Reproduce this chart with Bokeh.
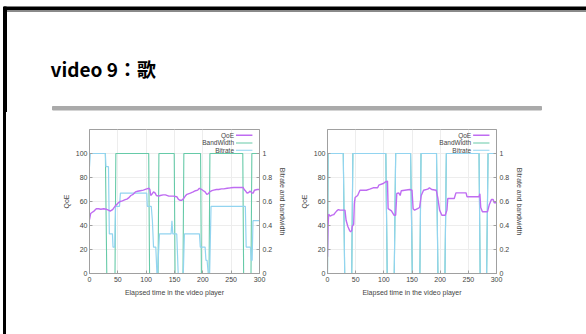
from bokeh.plotting import figure
from bokeh.models import Range1d, LinearAxis, FixedTicker, CustomJSTickFormatter, Spacer, Div
from bokeh.layouts import column, row
from bokeh.embed import file_html
from bokeh.resources import INLINE
from bokeh.core.properties import value

# ---------------- texts ----------------
TITLE = "video 9：歌"
X_LABEL = "Elapsed time in the video player"
Y_LABEL = "QoE"
Y2_LABEL = "Bitrate and bandwidth"
SERIES = ["QoE", "BandWidth", "Bitrate"]
X_TICKS = [0, 50, 100, 150, 200, 250, 300]
Y_TICKS = [0, 20, 40, 60, 80, 100]
Y2_TICKS = [0, 0.2, 0.4, 0.6, 0.8, 1]

# ---------------- data: left chart ----------------
qoe_a_t = [0, 2, 5, 8, 12, 16, 20, 25, 30, 33.5,
           36.5, 40, 42, 45, 48, 51, 54, 58, 63, 66,
           69, 73, 77, 81, 85, 89.5, 95, 101, 105, 106.5,
           108, 110, 113, 116, 118, 122, 125, 130, 134, 140,
           144, 148, 154, 157, 160, 163, 166, 169, 172, 178,
           183, 187, 191, 194, 198, 201, 204, 207, 210, 212,
           216, 219, 224, 228, 233, 237, 243, 249, 255, 260,
           266, 271, 273, 275, 278, 281, 283, 285, 287, 289,
           291, 296, 300]
qoe_a_v = [45, 50, 51, 52, 54, 54, 53.5, 54, 53.5, 52.8,
           52, 53, 54, 56, 57.5, 59, 60, 60.5, 61.5, 62,
           63, 65, 66, 68, 68.5, 69, 69.5, 70.5, 71, 70,
           65, 66, 68, 67, 65, 64.5, 65, 65.5, 65.5, 64.5,
           64.5, 64.5, 64, 61.7, 61, 61, 62.5, 64.5, 66, 67,
           68, 69, 69.5, 71, 70, 69, 68, 66, 66.5, 68,
           69, 69.5, 70, 70, 70.5, 70.5, 71, 71.4, 71.7, 71.7,
           71.7, 71.7, 70, 69, 67, 67.5, 68.6, 68, 67, 67,
           69.4, 70, 70]

bw_a_t = [0, 28, 30.5, 45, 46.5, 104.5, 106, 121, 122.5, 149.5, 151,
          165, 166.5, 196, 197.5, 211, 212.5, 270.5, 272, 285, 286.5, 300]
bw_a_v = [1, 1, 0, 0, 1, 1, 0, 0, 1, 1, 0,
          0, 1, 1, 0, 0, 1, 1, 0, 0, 1, 1]

br_a_t = [0, 1.5, 28, 29, 33.5, 35, 40.5, 41.5, 44.5, 46,
          53, 54.5, 101, 102, 109, 111, 113, 117, 119, 120,
          123.5, 144, 145.5, 147, 154, 156.5, 165.5, 167.5, 194, 195.5,
          204, 205.5, 207.5, 209.5, 212, 214.5, 275, 276.5, 284, 285.5,
          287, 288.5, 300]
br_a_v = [0.89, 1, 1, 0.89, 0.89, 0.33, 0.33, 0.22, 0.22, 0.56,
          0.56, 0.67, 0.67, 0.56, 0.56, 0.44, 0.22, 0.22, 0, 0,
          0.33, 0.33, 0.44, 0.33, 0.33, 0, 0, 0.33, 0.33, 0.22,
          0.22, 0.11, 0.11, 0, 0, 0.56, 0.56, 0.22, 0.22, 0.11,
          0.11, 0.44, 0.44]

# ---------------- data: right chart ----------------
qoe_b_t = [0, 1, 2, 4.7, 8, 11, 13.5, 16.5, 19.4, 22,
           28, 31, 33, 36, 39, 41, 43, 44, 46.5, 47.6,
           49, 53.5, 57.6, 69, 75, 81, 89, 91, 99, 103,
           106.5, 107.6, 113.5, 118, 121, 123, 126.4, 129, 131, 137,
           146, 150, 152, 154.6, 160, 163.5, 166.4, 170.5, 178, 181,
           185, 193, 196, 199, 203, 209, 212, 213.5, 225, 228,
           246, 247.6, 269, 270.5, 272, 275, 284, 287, 291, 294,
           296, 300]
qoe_b_v = [14, 40, 49.4, 47.8, 48.6, 49, 50.5, 52.2, 53.3, 52.8,
           52.8, 52.8, 44.4, 39.4, 36, 34.7, 36, 39.4, 41, 58,
           63.3, 65, 69.4, 69.4, 70.3, 71.4, 71.4, 73.6, 75, 76.4,
           77, 54, 52.2, 48.6, 48.6, 66.7, 67.2, 65, 69, 69.4,
           70, 69.4, 54, 52.8, 54, 55, 65, 69.4, 70.3, 71.4,
           70, 69.4, 62.5, 52.8, 48.6, 48.6, 52.8, 62.5, 62.5, 67.2,
           67.2, 64, 64, 66.5, 55, 51.4, 51.4, 57, 61.7, 61.7,
           59, 59]

bw_b_t = [0, 1, 28, 30.5, 43, 45, 103.5, 106, 118.5, 121, 147.5, 150.5,
          164, 166, 193.5, 196, 208.5, 211, 269, 271, 282.5, 285, 300]
bw_b_v = [0, 1, 1, 0, 0, 1, 1, 0, 0, 1, 1, 0,
          0, 1, 1, 0, 0, 1, 1, 0, 0, 1, 1]
br_b_t = [0, 1, 28, 30.5, 43, 45, 103.5, 106, 118.5, 121, 147.5, 150.5,
          164, 166, 193.5, 196, 208.5, 211, 269, 271, 282.5, 285, 300]
br_b_v = [0, 1, 1, 0, 0, 1, 1, 0, 0, 1, 1, 0,
          0, 1, 1, 0, 0, 1, 1, 0, 0, 1, 1]

# ---------------- style ----------------
FONT = "Liberation Sans"
C_QOE = "#bf6cf2"
C_BW = "#66caa8"
C_BR = "#92d4f0"
AX = "#a0a0a0"
TXT = "#444444"
PAGE_W = 586
HEAD_H = 112
CH_H = 222
TOP, BOT = 17, 61


def make_chart(width, left, right, qt, qv, bwt, bwv, brt, brv):
    p = figure(width=width, height=CH_H, x_range=Range1d(0, 300), y_range=Range1d(0, 120),
               output_backend="svg", toolbar_location=None,
               min_border_left=left, min_border_right=right,
               min_border_top=TOP, min_border_bottom=BOT)
    p.extra_y_ranges = {"rate": Range1d(0, 1.2)}
    p.background_fill_color = "white"
    p.border_fill_color = "white"
    p.outline_line_color = AX
    p.outline_line_width = 1

    p.xaxis.ticker = FixedTicker(ticks=X_TICKS)
    p.yaxis.ticker = FixedTicker(ticks=Y_TICKS)
    p.xaxis.axis_label = X_LABEL
    p.yaxis.axis_label = Y_LABEL

    ax2 = LinearAxis(y_range_name="rate", axis_label=Y2_LABEL,
                     ticker=FixedTicker(ticks=Y2_TICKS),
                     formatter=CustomJSTickFormatter(code="return tick.toString();"))
    p.add_layout(ax2, "right")

    for ax in p.axis:
        ax.axis_line_color = AX
        ax.major_tick_line_color = AX
        ax.major_tick_in = 3
        ax.major_tick_out = 0
        ax.minor_tick_line_color = None
        ax.major_label_text_font = FONT
        ax.major_label_text_font_size = "7px"
        ax.major_label_text_color = TXT
        ax.major_label_standoff = 3
        ax.axis_label_text_font = FONT
        ax.axis_label_text_font_size = "7px"
        ax.axis_label_text_font_style = "normal"
        ax.axis_label_text_color = TXT
        ax.axis_label_standoff = 4
    p.yaxis[0].major_label_standoff = 2
    p.yaxis[0].axis_label_standoff = 3

    p.grid.grid_line_color = "#ededed"
    p.grid.grid_line_width = 1

    p.line(bwt, bwv, y_range_name="rate", line_color=C_BW, line_width=1.1)
    p.line(brt, brv, y_range_name="rate", line_color=C_BR, line_width=1.2)
    p.line(qt, qv, line_color=C_QOE, line_width=1.4)

    # legend in gnuplot style (text right-aligned, sample to its right)
    rows_y = [115.2, 108.8, 102.7]
    cols = [C_QOE, C_BW, C_BR]
    p.text(x=[255] * 3, y=rows_y, text=SERIES, text_align="right", text_baseline="middle",
           text_font=value(FONT), text_font_size="6.5px", text_color=TXT)
    p.segment(x0=[258.5] * 3, y0=rows_y, x1=[287.5] * 3, y1=rows_y,
              line_color=cols, line_width=[1.4, 1.1, 1.2])
    return p


chart_a = make_chart(247, 39, 38, qoe_a_t, qoe_a_v, bw_a_t, bw_a_v, br_a_t, br_a_v)
chart_b = make_chart(233, 29, 34, qoe_b_t, qoe_b_v, bw_b_t, bw_b_v, br_b_t, br_b_v)

# ---------------- header (slide frame, title, rule) ----------------
head = figure(width=PAGE_W, height=HEAD_H, x_range=Range1d(0, PAGE_W), y_range=Range1d(HEAD_H, 0),
              x_axis_location=None, y_axis_location=None, min_border=0,
              output_backend="svg", toolbar_location=None)
head.grid.visible = False
head.outline_line_color = None
head.background_fill_color = "white"
head.border_fill_color = "white"
head.quad(left=[3], right=[PAGE_W], top=[6.5], bottom=[10], color="black")
head.quad(left=[6], right=[PAGE_W], top=[10], bottom=[11], color="#8a8a8a")
head.quad(left=[3], right=[6], top=[6.5], bottom=[HEAD_H], color="black")
head.text(x=[50], y=[68], text=[TITLE], text_font=value("Noto Sans CJK JP"),
          text_font_style="bold", text_font_size="19px", text_color="black",
          text_baseline="alphabetic", text_align="left")
head.quad(left=[52], right=[541], top=[106], bottom=[109.5], color="#aaaaaa")

left_edge = Div(text="", width=50, height=CH_H, margin=(0, 0, 0, 0),
                styles={"background": "linear-gradient(to right, #ffffff 3px, #000000 3px, "
                                      "#000000 6px, #ffffff 6px)"})

layout = column(head, row(left_edge, chart_a, chart_b, Spacer(width=56, height=CH_H)))

open("out.html", "w").write(file_html(layout, INLINE))
